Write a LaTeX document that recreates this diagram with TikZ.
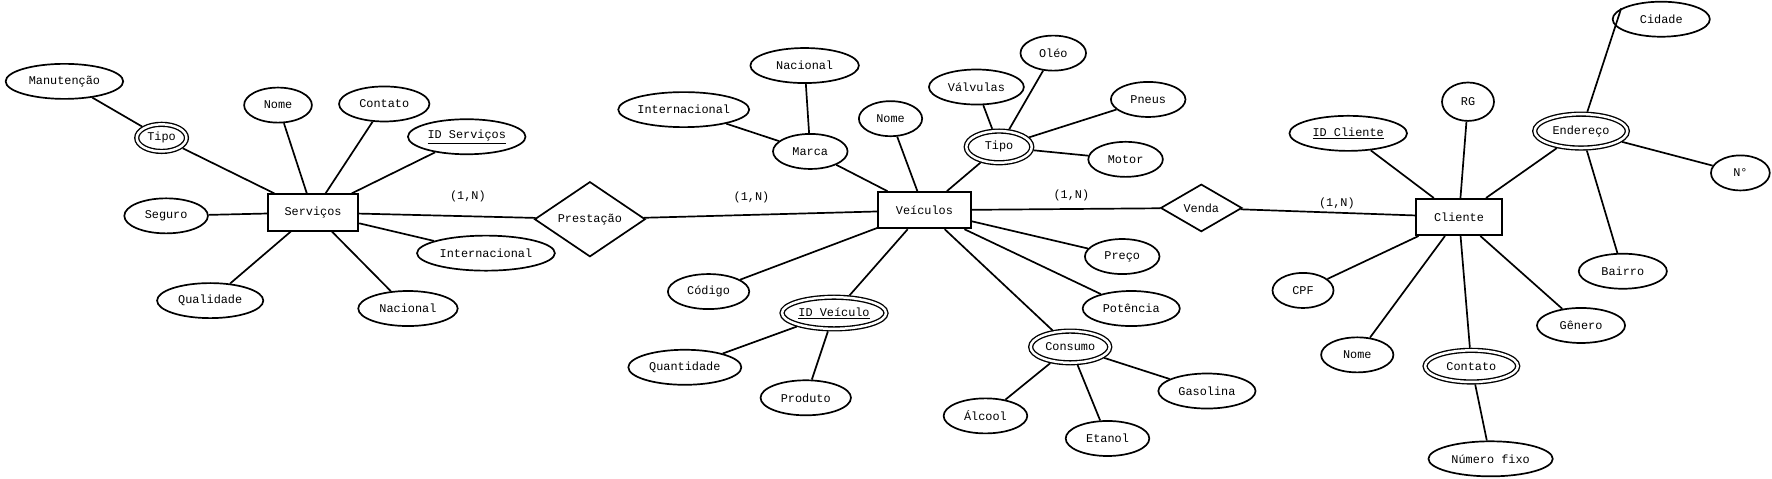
\documentclass[tikz,border=0pt]{standalone}
\usepackage{fontspec}
\usepackage{tikz}
\newfontfamily\ermono{Liberation Mono}
\tikzset{
  erfont/.style={font=\ermono\fontsize{10.5}{12}\selectfont},
  entity/.style={draw, line width=1.7pt, erfont,
                 minimum width=#1, minimum height=32pt, inner sep=0pt},
  attr/.style={ellipse, draw, line width=1.5pt, erfont,
               minimum width=#1, minimum height=31pt, inner sep=0pt},
  multi/.style={ellipse, draw, line width=1.2pt, double, double distance=2.2pt,
                erfont, minimum width=#1, minimum height=28pt,
                inner sep=0pt, outer sep=2.3pt},
  rel/.style={diamond, draw, line width=1.5pt, erfont, inner sep=0pt},
  link/.style={line width=1.5pt}
}
\usetikzlibrary{positioning, shapes.geometric}

\begin{document}
\begin{tikzpicture}[x=1pt, y=-1pt,
    card/.style={erfont, inner sep=1pt}
]
\useasboundingbox (0,0) rectangle (1568,423);
% Servicos
\node[entity=80pt] (svc) at (277,188) {Serviços};
\node[multi=44pt, minimum height=24pt] (stipo) at (143,122) {Tipo};
\node[attr=104pt] (smanut) at (57,72) {Manutenção};
\node[attr=60pt] (snome) at (246,93) {Nome};
\node[attr=80pt] (scontato) at (340,92) {Contato};
\node[attr=104pt] (sid) at (413,121) {\underline{ID Serviços}};
\node[attr=74pt] (sseguro) at (147,191) {Seguro};
\node[attr=122pt] (sinter) at (430,224) {Internacional};
\node[attr=94pt] (squal) at (186,266) {Qualidade};
\node[attr=88pt] (snac) at (361,273) {Nacional};
\node[rel, minimum width=98pt, minimum height=58pt] (prest) at (522,194) {Prestação};
% Veiculos
\node[entity=82pt] (veic) at (818,186) {Veículos};
\node[attr=96pt] (vnac) at (712,58) {Nacional};
\node[attr=108pt] (vinter) at (605,97) {Internacional};
\node[attr=66pt] (vmarca) at (717,134) {Marca};
\node[attr=56pt] (vnome) at (788,105) {Nome};
\node[attr=84pt] (vvalv) at (864,77) {Válvulas};
\node[attr=58pt] (voleo) at (932,47) {Oléo};
\node[attr=66pt] (vpneus) at (1016,88) {Pneus};
\node[multi=58pt] (vtipo) at (884,130) {Tipo};
\node[attr=66pt] (vmotor) at (996,141) {Motor};
\node[attr=66pt] (vpreco) at (993,227) {Preço};
\node[attr=86pt] (vpot) at (1001,273) {Potência};
\node[attr=72pt] (vcod) at (627,258) {Código};
\node[multi=92pt] (vid) at (738,277) {\underline{ID Veículo}};
\node[attr=100pt] (vquant) at (606,325) {Quantidade};
\node[attr=80pt] (vprod) at (713,352) {Produto};
\node[multi=70pt] (vcons) at (947,307) {Consumo};
\node[attr=74pt] (valc) at (872,368) {Álcool};
\node[attr=74pt] (veta) at (980,388) {Etanol};
\node[attr=86pt] (vgas) at (1068,346) {Gasolina};
\node[rel, minimum width=72pt, minimum height=42pt] (venda) at (1063,184) {Venda};
% Cliente
\node[entity=76pt] (cli) at (1291,192) {Cliente};
\node[attr=86pt] (ccid) at (1470,17) {Cidade};
\node[attr=46pt, minimum height=34pt] (crg) at (1299,90) {RG};
\node[attr=104pt] (cid) at (1193,118) {\underline{ID Cliente}};
\node[multi=82pt, minimum height=30pt] (cend) at (1399,116) {Endereço};
\node[attr=52pt] (cnum) at (1540,153) {N°};
\node[attr=78pt] (cbairro) at (1436,240) {Bairro};
\node[attr=54pt] (ccpf) at (1153,257) {CPF};
\node[attr=78pt] (cgen) at (1399,288) {Gênero};
\node[attr=64pt] (cnome) at (1201,314) {Nome};
\node[multi=82pt] (ccont) at (1302,324) {Contato};
\node[attr=110pt] (cfixo) at (1319,406) {Número fixo};
% cardinalidades
\node[card] (c1) at (414,174) {(1,N)};
\node[card] (c2) at (665,175) {(1,N)};
\node[card] (c3) at (948,173) {(1,N)};
\node[card] (c4) at (1183,180) {(1,N)};
% ligacoes
\foreach \a/\b in {svc/stipo, stipo/smanut, svc/snome, svc/scontato, svc/sid,
                   svc/sseguro, svc/sinter, svc/squal, svc/snac,
                   svc/prest, prest/veic,
                   veic/vmarca, vmarca/vnac, vmarca/vinter, veic/vnome,
                   veic/vtipo, vtipo/vvalv, vtipo/voleo, vtipo/vpneus, vtipo/vmotor,
                   veic/vpreco, veic/vpot, veic/vcod, veic/vid, vid/vquant, vid/vprod,
                   veic/vcons, vcons/valc, vcons/veta, vcons/vgas,
                   veic/venda, venda/cli,
                   cli/cid, cli/crg, cli/cend, cend/ccid.165, cend/cnum, cend/cbairro,
                   cli/ccpf, cli/cnome, cli/ccont, cli/cgen, ccont/cfixo}
    \draw[link] (\a) -- (\b);
\end{tikzpicture}
\end{document}
